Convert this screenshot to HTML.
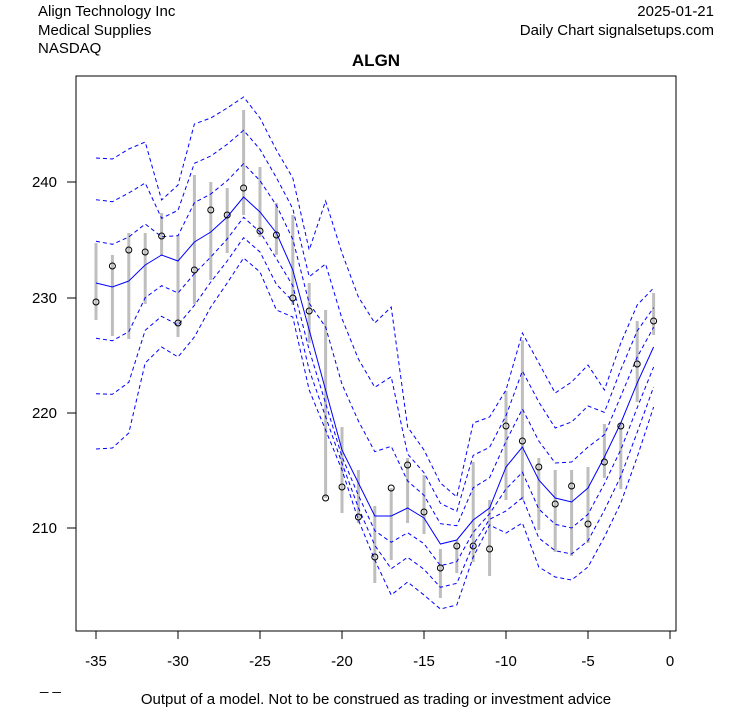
<!DOCTYPE html>
<html><head><meta charset="utf-8"><style>
body{margin:0;background:#fff;}
svg{display:block;font-family:"Liberation Sans",Arial,sans-serif;}
</style></head><body>
<svg id="s" width="753" height="708" xmlns="http://www.w3.org/2000/svg">
<rect width="753" height="708" fill="#fff"/>
<text x="38" y="16" font-size="15">Align Technology Inc</text>
<text x="38" y="35" font-size="15">Medical Supplies</text>
<text x="38" y="53" font-size="15">NASDAQ</text>
<text x="714" y="16" font-size="15" text-anchor="end">2025-01-21</text>
<text x="714" y="35" font-size="15" text-anchor="end">Daily Chart signalsetups.com</text>
<text x="376" y="66" font-size="17" font-weight="bold" text-anchor="middle">ALGN</text>
<g id="g"></g>
<rect x="76" y="76" width="600" height="555" fill="none" stroke="#000" stroke-width="1"/>
<g stroke="#000" stroke-width="1">
<line x1="67" y1="528" x2="76" y2="528"/><line x1="67" y1="413" x2="76" y2="413"/>
<line x1="67" y1="298" x2="76" y2="298"/><line x1="67" y1="182" x2="76" y2="182"/>
</g>
<g font-size="15" text-anchor="end">
<text x="57" y="533">210</text><text x="57" y="418">220</text><text x="57" y="303">230</text><text x="57" y="187">240</text>
</g>
<g id="xt" font-size="15" text-anchor="middle"></g>
<text x="40" y="690" font-size="15">_ _</text>
<text x="376" y="704" font-size="15" text-anchor="middle">Output of a model. Not to be construed as trading or investment advice</text>
</svg>
<script>
var C=[283,287,281,265,255,261,242,232,217,197,212,233,270,330,390,450,483,516,516,508,518,544,540,520,508,467,447,480,498,502,488,457,423,383,347];
var T=[158,159,149,142,200,185,124,118,108,97,118,150,178,250,201,253,297,323,307,427,450,483,497,423,417,390,333,363,393,382,365,390,343,305,288];
var B=[449,448,433,363,347,357,337,307,283,258,272,310,317,390,430,470,520,560,595,582,595,609,605,557,525,533,523,567,577,580,567,537,503,457,407];
var P=[[302,243,320],[266,255,336],[250,233,339],[252,233,304],[236,213,256],[323,235,337],[270,175,304],[210,182,280],[215,188,253],[188,110,215],[231,167,237],[235,203,255],[298,215,305],[311,283,343],[498,310,498],[487,427,513],[517,470,523],[557,506,583],[488,488,560],[465,458,523],[512,475,534],[568,549,598],[546,540,573],[546,462,562],[549,500,576],[426,391,500],[441,340,500],[467,458,530],[504,470,552],[486,470,556],[524,467,543],[462,424,478],[426,424,489],[364,321,402],[321,293,335]];
var ns="http://www.w3.org/2000/svg",g=document.getElementById('g'),xt=document.getElementById('xt');
function X(i){return 670+(i-35)*16.4;}
function el(t,a,p){var e=document.createElementNS(ns,t);for(var k in a)e.setAttribute(k,a[k]);(p||g).appendChild(e);return e;}
for(var i=0;i<35;i++){var x=X(i);el('line',{x1:x,y1:P[i][1],x2:x,y2:P[i][2],stroke:'#bebebe','stroke-width':3});}
function line(f,dash){var d='';for(var i=0;i<35;i++)d+=(i?'L':'M')+X(i).toFixed(1)+' '+f(i).toFixed(1);
var a={d:d,fill:'none',stroke:'#0000ff','stroke-width':1};if(dash)a['stroke-dasharray']='4 3';el('path',a);}
[1,2,3].forEach(function(k){line(function(i){return C[i]+(T[i]-C[i])*k/3;},1);line(function(i){return C[i]+(B[i]-C[i])*k/3;},1);});
line(function(i){return C[i];},0);
for(var i=0;i<35;i++)el('circle',{cx:X(i),cy:P[i][0],r:3,fill:'none',stroke:'#000','stroke-width':1});
for(var v=-35;v<=0;v+=5){var x=670+v*16.4;el('line',{x1:x,y1:631,x2:x,y2:639,stroke:'#000'});var t=el('text',{x:x,y:666},xt);t.textContent=v;}
</script>
</body></html>
